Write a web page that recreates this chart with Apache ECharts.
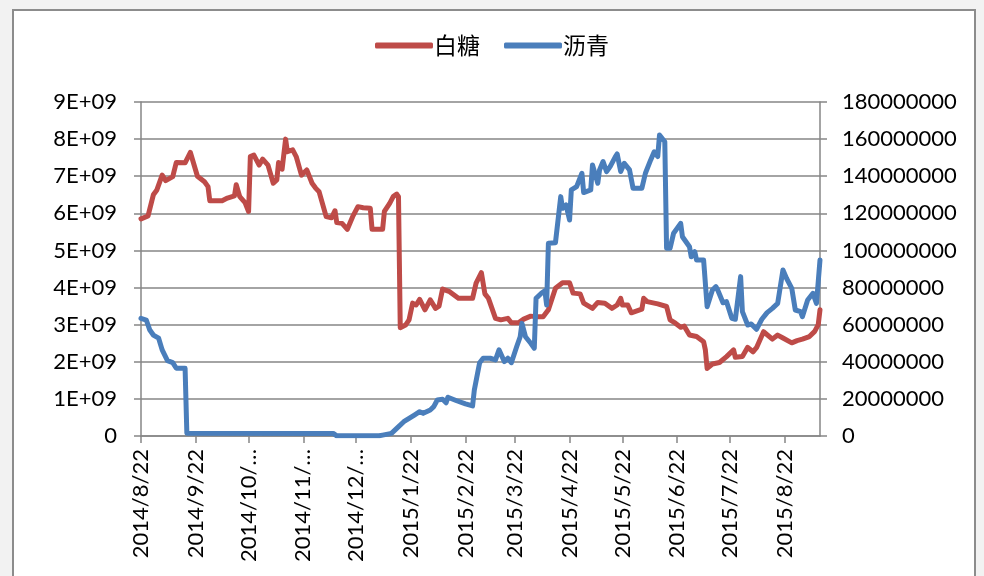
<!DOCTYPE html>
<html><head><meta charset="utf-8">
<script src="https://cdn.jsdelivr.net/npm/echarts@6/dist/echarts.min.js"></script>
<style>
html,body{margin:0;padding:0;background:#f2f2f2;}
#frame{position:absolute;left:12px;top:9px;width:960px;height:620px;border:2px solid #8c8c8c;background:#fff;}
#chart{position:absolute;left:0;top:0;width:984px;height:576px;}
</style></head>
<body>
<div id="frame"></div>
<div id="chart"></div>
<script>
const seriesNames = ['白糖', '沥青'];
const startDate = '2014/8/22';
const endDate = '2015/9/11';

const sugarDates = ['2014/8/22','2014/8/26','2014/8/29','2014/8/31','2014/9/3','2014/9/5','2014/9/9','2014/9/11','2014/9/16','2014/9/19','2014/9/23','2014/9/27','2014/9/29','2014/9/30','2014/10/7','2014/10/10','2014/10/14','2014/10/15','2014/10/17','2014/10/20','2014/10/22','2014/10/23','2014/10/25','2014/10/28','2014/10/30','2014/11/2','2014/11/5','2014/11/7','2014/11/8','2014/11/10','2014/11/12','2014/11/13','2014/11/16','2014/11/18','2014/11/21','2014/11/24','2014/11/27','2014/11/29','2014/12/1','2014/12/5','2014/12/8','2014/12/10','2014/12/11','2014/12/14','2014/12/17','2014/12/20','2014/12/23','2014/12/26','2014/12/30','2014/12/31','2015/1/6','2015/1/7','2015/1/10','2015/1/12','2015/1/14','2015/1/15','2015/1/16','2015/1/19','2015/1/21','2015/1/23','2015/1/25','2015/1/27','2015/1/30','2015/2/2','2015/2/5','2015/2/7','2015/2/9','2015/2/13','2015/2/18','2015/2/26','2015/2/28','2015/3/3','2015/3/5','2015/3/7','2015/3/11','2015/3/14','2015/3/18','2015/3/20','2015/3/24','2015/3/27','2015/3/31','2015/4/4','2015/4/7','2015/4/10','2015/4/14','2015/4/18','2015/4/22','2015/4/24','2015/4/28','2015/4/30','2015/5/5','2015/5/8','2015/5/12','2015/5/16','2015/5/19','2015/5/21','2015/5/22','2015/5/25','2015/5/27','2015/6/2','2015/6/3','2015/6/5','2015/6/11','2015/6/16','2015/6/18','2015/6/21','2015/6/24','2015/6/26','2015/6/29','2015/7/3','2015/7/7','2015/7/8','2015/7/9','2015/7/12','2015/7/16','2015/7/20','2015/7/24','2015/7/25','2015/7/29','2015/8/1','2015/8/4','2015/8/6','2015/8/10','2015/8/15','2015/8/18','2015/8/21','2015/8/26','2015/8/29','2015/9/1','2015/9/5','2015/9/8','2015/9/10','2015/9/11'];
const sugarValues = [5.85e9,5.93e9,6.5e9,6.63e9,7.03e9,6.88e9,6.99e9,7.37e9,7.36e9,7.64e9,7.0e9,6.85e9,6.72e9,6.34e9,6.34e9,6.41e9,6.47e9,6.77e9,6.45e9,6.29e9,6.05e9,7.53e9,7.57e9,7.3e9,7.46e9,7.3e9,6.81e9,6.9e9,7.37e9,7.19e9,8.0e9,7.66e9,7.71e9,7.53e9,7.03e9,7.17e9,6.81e9,6.68e9,6.58e9,5.91e9,5.88e9,6.07e9,5.75e9,5.73e9,5.57e9,5.91e9,6.18e9,6.15e9,6.14e9,5.57e9,5.57e9,6.05e9,6.27e9,6.45e9,6.52e9,6.45e9,2.92e9,2.99e9,3.13e9,3.58e9,3.53e9,3.68e9,3.4e9,3.67e9,3.44e9,3.5e9,3.96e9,3.89e9,3.71e9,3.71e9,4.12e9,4.40e9,3.83e9,3.71e9,3.17e9,3.13e9,3.17e9,3.05e9,3.05e9,3.15e9,3.23e9,3.21e9,3.21e9,3.4e9,3.98e9,4.13e9,4.13e9,3.85e9,3.83e9,3.58e9,3.44e9,3.6e9,3.58e9,3.44e9,3.53e9,3.71e9,3.53e9,3.53e9,3.32e9,3.42e9,3.71e9,3.62e9,3.56e9,3.49e9,3.13e9,3.04e9,2.93e9,2.96e9,2.72e9,2.68e9,2.54e9,2.32e9,1.82e9,1.94e9,1.98e9,2.14e9,2.32e9,2.12e9,2.14e9,2.39e9,2.27e9,2.38e9,2.81e9,2.61e9,2.72e9,2.64e9,2.51e9,2.57e9,2.61e9,2.68e9,2.82e9,3.0e9,3.4e9];

const asphaltDates = ['2014/8/22','2014/8/25','2014/8/27','2014/8/29','2014/9/1','2014/9/3','2014/9/6','2014/9/9','2014/9/11','2014/9/16','2014/9/17','2014/12/9','2014/12/11','2015/1/4','2015/1/6','2015/1/11','2015/1/14','2015/1/18','2015/1/21','2015/1/24','2015/1/27','2015/1/29','2015/2/2','2015/2/4','2015/2/6','2015/2/9','2015/2/11','2015/2/12','2015/2/17','2015/2/22','2015/2/26','2015/2/27','2015/3/2','2015/3/4','2015/3/8','2015/3/11','2015/3/13','2015/3/16','2015/3/18','2015/3/20','2015/3/23','2015/3/25','2015/3/26','2015/3/28','2015/3/31','2015/4/2','2015/4/3','2015/4/6','2015/4/8','2015/4/9','2015/4/10','2015/4/14','2015/4/15','2015/4/17','2015/4/18','2015/4/20','2015/4/22','2015/4/23','2015/4/26','2015/4/29','2015/4/30','2015/5/4','2015/5/5','2015/5/8','2015/5/9','2015/5/11','2015/5/13','2015/5/15','2015/5/18','2015/5/19','2015/5/21','2015/5/23','2015/5/26','2015/5/28','2015/6/2','2015/6/4','2015/6/7','2015/6/9','2015/6/11','2015/6/12','2015/6/15','2015/6/16','2015/6/18','2015/6/20','2015/6/24','2015/6/25','2015/6/26','2015/6/29','2015/6/30','2015/7/2','2015/7/3','2015/7/7','2015/7/9','2015/7/12','2015/7/14','2015/7/15','2015/7/18','2015/7/20','2015/7/23','2015/7/25','2015/7/28','2015/7/29','2015/8/1','2015/8/3','2015/8/6','2015/8/9','2015/8/12','2015/8/15','2015/8/18','2015/8/19','2015/8/21','2015/8/23','2015/8/26','2015/8/28','2015/8/31','2015/9/1','2015/9/4','2015/9/7','2015/9/9','2015/9/10','2015/9/11'];
const asphaltValues = [63.4e6,62.5e6,57.1e6,54.4e6,52.7e6,46.4e6,40.6e6,39.5e6,36.5e6,36.5e6,1.5e6,1.4e6,0.1e6,0.1e6,0.5e6,1.4e6,4.1e6,7.7e6,9.5e6,11.3e6,13.1e6,12.2e6,14.0e6,15.8e6,19.4e6,19.8e6,17.9e6,20.9e6,19.0e6,17.3e6,16.2e6,24.8e6,39.5e6,41.9e6,41.9e6,41.0e6,46.4e6,40.1e6,41.9e6,39.5e6,48.1e6,53.5e6,60.7e6,53.5e6,50.0e6,47.3e6,74.2e6,76.9e6,78.3e6,70.6e6,103.9e6,104.2e6,103.5e6,129.0e6,122.7e6,124.5e6,116.4e6,132.6e6,134.4e6,141.6e6,131.2e6,132.6e6,146.1e6,136.2e6,143.4e6,147.9e6,142.5e6,145.2e6,150.6e6,152e6,142.5e6,147e6,143.4e6,133.5e6,133.5e6,141.6e6,148.8e6,153.2e6,150.6e6,162.2e6,158.6e6,101.2e6,101.2e6,109.3e6,114.6e6,107.4e6,108.3e6,102.0e6,96.6e6,99.3e6,94.9e6,94.9e6,69.7e6,78.7e6,80.5e6,78.7e6,71.8e6,72.4e6,63.4e6,62.9e6,85.9e6,67e6,59.8e6,60.4e6,57.5e6,62.9e6,66.5e6,68.8e6,71.5e6,72.4e6,89.5e6,85e6,79.6e6,67.9e6,67e6,64.3e6,73.3e6,76.9e6,71.5e6,72.4e6,94.9e6];

// calendar-day categories for the date axis
function fmt(d){return d.getFullYear()+'/'+(d.getMonth()+1)+'/'+d.getDate();}
const categories = [];
{
  const p = startDate.split('/').map(Number), q = endDate.split('/').map(Number);
  const d = new Date(p[0], p[1]-1, p[2]), e = new Date(q[0], q[1]-1, q[2]);
  while (d <= e) { categories.push(fmt(d)); d.setDate(d.getDate()+1); }
}
const idx = s => categories.indexOf(s);
const sugarData = sugarDates.map((d,i)=>[idx(d), sugarValues[i]]);
const asphaltData = asphaltDates.map((d,i)=>[idx(d), asphaltValues[i]]);

const monthTick = (i, v) => /\/22$/.test(v);
const FONT = 'Lato';
const gray = '#868686';

const chart = echarts.init(document.getElementById('chart'), null, {renderer:'canvas'});
chart.setOption({
  backgroundColor: 'transparent',
  animation: false,
  color: ['#be4b48', '#4a7ebb'],
  legend: {
    top: 29, left: 'center',
    data: seriesNames,
    icon: 'roundRect', itemWidth: 58, itemHeight: 6, itemGap: 24,
    textStyle: {fontFamily: '"Noto Sans CJK SC"', fontSize: 23, color: '#000', padding: [0,0,0,-4]}
  },
  grid: {left: 141, right: 164, top: 102, bottom: 140, containLabel: false},
  xAxis: {
    type: 'category', data: categories, boundaryGap: false,
    axisLine: {lineStyle: {color: gray, width: 1.5}},
    axisTick: {interval: monthTick, length: 7, lineStyle: {color: gray, width: 1.5}},
    axisLabel: {
      interval: monthTick, rotate: 90, margin: 13,
      fontFamily: FONT, fontSize: 22, color: '#000',
      formatter: v => /^2014\/1[0-2]\//.test(v) ? v.slice(0, 8) + '…' : v
    },
    splitLine: {show: false}
  },
  yAxis: [{
    type: 'value', min: 0, max: 9e9, interval: 1e9, position: 'left',
    axisLine: {show: true, lineStyle: {color: gray, width: 1.5}},
    axisTick: {show: true, length: 7, lineStyle: {color: gray, width: 1.5}},
    axisLabel: {margin: 24, fontFamily: FONT, fontSize: 22, color: '#000',
      formatter: v => v === 0 ? '0' : (v/1e9) + 'E+09'},
    splitLine: {lineStyle: {color: gray, width: 1.5}}
  }, {
    type: 'value', min: 0, max: 180000000, interval: 20000000, position: 'right',
    axisLine: {show: true, lineStyle: {color: gray, width: 1.5}},
    axisTick: {show: true, length: 7, lineStyle: {color: gray, width: 1.5}},
    axisLabel: {margin: 22, fontFamily: FONT, fontSize: 22, color: '#000',
      formatter: v => String(v)},
    splitLine: {show: false}
  }],
  series: [{
    name: seriesNames[0], type: 'line', yAxisIndex: 0, data: sugarData,
    showSymbol: false, symbol: 'none',
    lineStyle: {width: 5, color: '#be4b48', join: 'round', cap: 'round'}
  }, {
    name: seriesNames[1], type: 'line', yAxisIndex: 1, data: asphaltData,
    showSymbol: false, symbol: 'none',
    lineStyle: {width: 5, color: '#4a7ebb', join: 'round', cap: 'round'}
  }]
});
</script>
</body></html>
